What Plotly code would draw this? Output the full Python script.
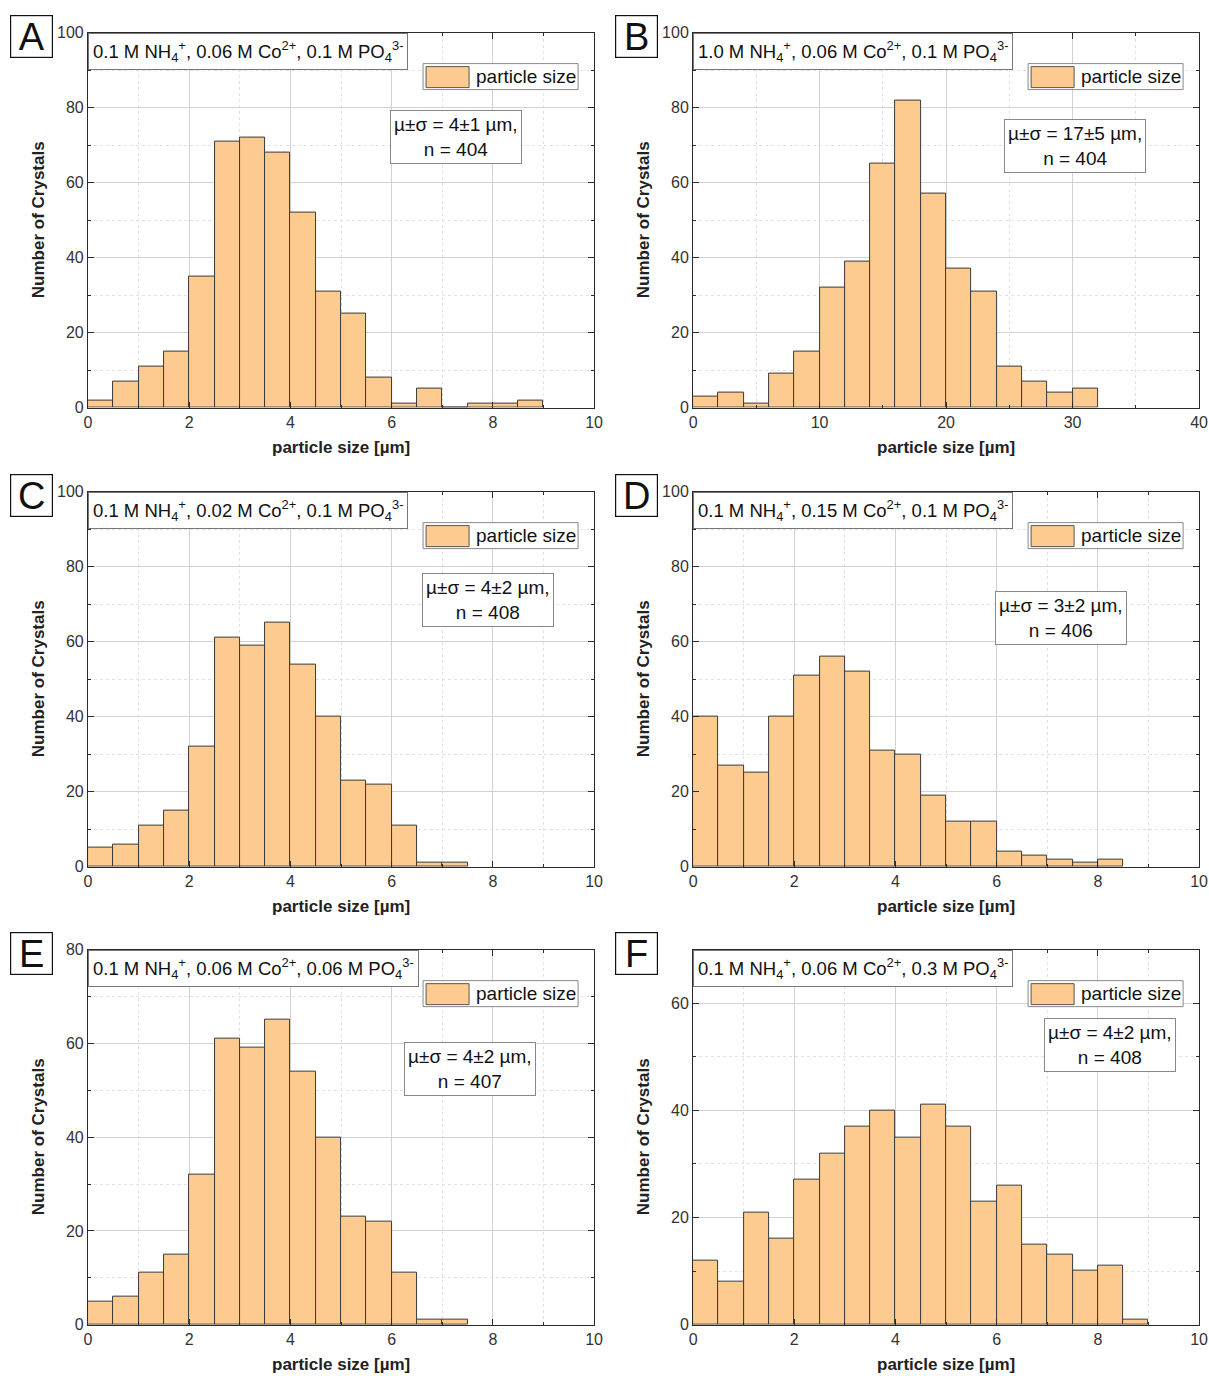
import plotly.graph_objects as go

W, H = 1209, 1376

# ---- data: crystal counts per size bin (bins start at 0 µm) ----
panel_letters = ["A", "B", "C", "D", "E", "F"]
conditions = [
    "0.1 M NH<sub>4</sub><sup>+</sup>, 0.06 M Co<sup>2+</sup>, 0.1 M PO<sub>4</sub><sup>3-</sup>",
    "1.0 M NH<sub>4</sub><sup>+</sup>, 0.06 M Co<sup>2+</sup>, 0.1 M PO<sub>4</sub><sup>3-</sup>",
    "0.1 M NH<sub>4</sub><sup>+</sup>, 0.02 M Co<sup>2+</sup>, 0.1 M PO<sub>4</sub><sup>3-</sup>",
    "0.1 M NH<sub>4</sub><sup>+</sup>, 0.15 M Co<sup>2+</sup>, 0.1 M PO<sub>4</sub><sup>3-</sup>",
    "0.1 M NH<sub>4</sub><sup>+</sup>, 0.06 M Co<sup>2+</sup>, 0.06 M PO<sub>4</sub><sup>3-</sup>",
    "0.1 M NH<sub>4</sub><sup>+</sup>, 0.06 M Co<sup>2+</sup>, 0.3 M PO<sub>4</sub><sup>3-</sup>",
]
bin_widths = [0.5, 2.0, 0.5, 0.5, 0.5, 0.5]
counts_a = [2, 7, 11, 15, 35, 71, 72, 68, 52, 31, 25, 8, 1, 5, 0, 1, 1, 2]
counts_b = [3, 4, 1, 9, 15, 32, 39, 65, 82, 57, 37, 31, 11, 7, 4, 5]
counts_c = [5, 6, 11, 15, 32, 61, 59, 65, 54, 40, 23, 22, 11, 1, 1]
counts_d = [40, 27, 25, 40, 51, 56, 52, 31, 30, 19, 12, 12, 4, 3, 2, 1, 2]
counts_e = [5, 6, 11, 15, 32, 61, 59, 65, 54, 40, 23, 22, 11, 1, 1]
counts_f = [12, 8, 21, 16, 27, 32, 37, 40, 35, 41, 37, 23, 26, 15, 13, 10, 11, 1]
all_counts = [counts_a, counts_b, counts_c, counts_d, counts_e, counts_f]
mean_sd = ["4±1", "17±5", "4±2", "3±2", "4±2", "4±2"]
n_counts = [404, 404, 408, 406, 407, 408]

x_max = [10, 40, 10, 10, 10, 10]
x_dtick = [2, 10, 2, 2, 2, 2]
y_max = [100, 100, 100, 100, 80, 70]

# ---- styling / layout ----
FONT = "Arial, 'Liberation Sans', sans-serif"
BAR_FILL = "#FDCB90"
BAR_LINE = "#3a3a3a"
AXIS_COL = "#2b2b2b"
GRID_MAJ = "#d2d2d2"
GRID_MIN = "#e2e2e2"

# plot-area corners in page pixels
col_left = [88, 693]
row_top = [32, 491, 949]
PW, PH = 506, 375

# stats box placement relative to the plot area (centre x, top y)
stats_pos = [(368, 77), (382, 86), (400, 81), (368, 99), (382, 92), (417, 68)]

# page pixel -> figure pixel (page body offset and viewport scaling)
SX, OX = 0.9892, 3.95
SY, OY = 0.9876, 7.4


def fx(p):
    return ((p - OX) / SX) / W


def fy(p):
    return 1 - ((p - OY) / SY) / H


fig = go.Figure()
shapes, annotations = [], []

for i in range(6):
    r, c = divmod(i, 2)
    left, top = col_left[c], row_top[r]
    ax = "" if i == 0 else str(i + 1)
    w = bin_widths[i]
    counts = all_counts[i]
    centers = [w * k + w / 2 for k in range(len(counts))]

    fig.add_trace(go.Bar(
        x=centers, y=counts, width=[w] * len(counts),
        marker=dict(color=BAR_FILL, line=dict(color=BAR_LINE, width=1)),
        name="particle size", showlegend=False,
        xaxis="x" + ax, yaxis="y" + ax,
    ))

    common = dict(
        showline=True, linecolor=AXIS_COL, linewidth=1.2, mirror="allticks",
        ticks="inside", ticklen=6, tickcolor=AXIS_COL, tickwidth=1.2,
        showgrid=True, gridcolor=GRID_MAJ, gridwidth=1, zeroline=False,
        tickfont=dict(family=FONT, size=16, color="#333333"),
    )
    fig.layout["xaxis" + ax] = dict(
        common,
        domain=[fx(left), fx(left + PW)], anchor="y" + ax,
        range=[0, x_max[i]], dtick=x_dtick[i], tick0=0,
        minor=dict(dtick=x_dtick[i] / 2, showgrid=True, gridcolor=GRID_MIN,
                   griddash="dot", ticks="inside", ticklen=3, tickcolor=AXIS_COL),
    )
    fig.layout["yaxis" + ax] = dict(
        common,
        domain=[fy(top + PH), fy(top)], anchor="x" + ax,
        range=[0, y_max[i]], dtick=20, tick0=0,
        minor=dict(dtick=10, showgrid=True, gridcolor=GRID_MIN,
                   griddash="dot", ticks="inside", ticklen=3, tickcolor=AXIS_COL),
    )

    # axis titles
    annotations.append(dict(
        x=fx(left + PW / 2), y=fy(top + PH + 40), xref="paper", yref="paper",
        text="<b>particle size [µm]</b>", showarrow=False,
        font=dict(family=FONT, size=17, color="#222"), xanchor="center", yanchor="middle",
    ))
    annotations.append(dict(
        x=fx(left - 50), y=fy(top + PH / 2), xref="paper", yref="paper",
        text="<b>Number of Crystals</b>", showarrow=False, textangle=-90,
        font=dict(family=FONT, size=17, color="#222"), xanchor="center", yanchor="middle",
    ))

    # panel letter in a framed box
    annotations.append(dict(
        x=fx(left - 78), y=fy(top - 18), xref="paper", yref="paper",
        text=panel_letters[i], showarrow=False, xanchor="left", yanchor="top",
        font=dict(family=FONT, size=38, color="#111"),
        width=37, height=37, borderpad=2, bordercolor="#111", borderwidth=1.2,
        bgcolor="white",
    ))

    # composition box at the top-left corner of the plot
    annotations.append(dict(
        x=fx(left), y=fy(top), xref="paper", yref="paper",
        text=conditions[i], showarrow=False, xanchor="left", yanchor="top",
        font=dict(family=FONT, size=18.5, color="#111"),
        bgcolor="white", bordercolor="#777", borderwidth=1, borderpad=4,
    ))

    # legend box with swatch
    shapes.append(dict(
        type="rect", xref="paper", yref="paper", layer="above",
        x0=fx(left + 335), x1=fx(left + 490), y0=fy(top + 57), y1=fy(top + 31),
        fillcolor="white", line=dict(color="#888", width=1),
    ))
    shapes.append(dict(
        type="rect", xref="paper", yref="paper", layer="above",
        x0=fx(left + 338), x1=fx(left + 381), y0=fy(top + 55), y1=fy(top + 34),
        fillcolor=BAR_FILL, line=dict(color="#555", width=1),
    ))
    annotations.append(dict(
        x=fx(left + 386), y=fy(top + 44), xref="paper", yref="paper",
        text="particle size", showarrow=False, xanchor="left", yanchor="middle",
        font=dict(family=FONT, size=19, color="#111"),
    ))

    # mean / sd box
    sx, sy = stats_pos[i]
    annotations.append(dict(
        x=fx(left + sx), y=fy(top + sy), xref="paper", yref="paper",
        text=f"µ±σ = {mean_sd[i]} µm,<br>n = {n_counts[i]}", showarrow=False,
        xanchor="center", yanchor="top", align="center",
        font=dict(family=FONT, size=19, color="#111"),
        bgcolor="white", bordercolor="#888", borderwidth=1, borderpad=3,
    ))

fig.update_layout(
    width=W, height=H, margin=dict(l=0, r=0, t=0, b=0),
    paper_bgcolor="white", plot_bgcolor="white",
    shapes=shapes, annotations=annotations, bargap=0,
    font=dict(family=FONT),
)

fig.write_html("out.html")
